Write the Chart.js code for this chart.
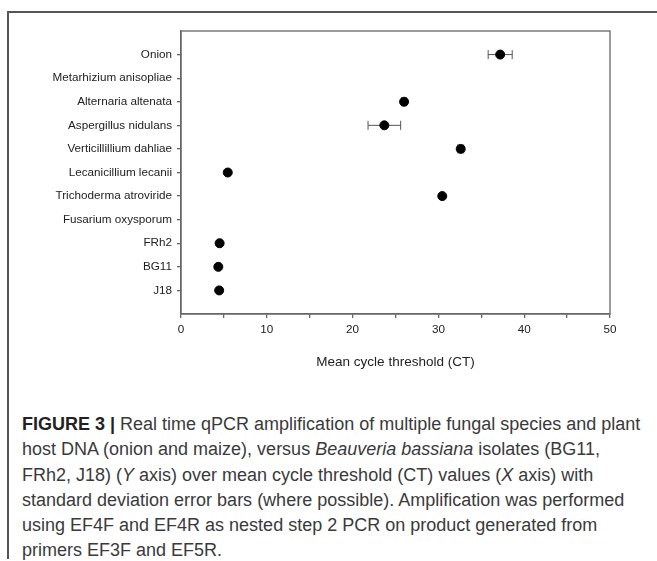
<!DOCTYPE html>
<html>
<head>
<meta charset="utf-8">
<script src="https://cdn.jsdelivr.net/npm/chart.js@4.4.0/dist/chart.umd.min.js"></script>
<style>
  html, body { margin: 0; padding: 0; background: #fff; }
  body { width: 657px; height: 561px; position: relative; overflow: hidden; }
  #frame {
    position: absolute; left: 7px; top: 11px; width: 660px; height: 546px;
    border-left: 2px solid #555; border-top: 2px solid #555;
  }
  #wrap { position: absolute; left: 0; top: 0; width: 657px; height: 380px; }
  #caption {
    position: absolute; left: 22px; top: 412px; white-space: nowrap;
    font-family: "Liberation Sans", Arial, sans-serif; font-size: 18px;
    line-height: 25.3px; color: #3a3a3a;
  }
  #caption b { color: #222; }
</style>
</head>
<body>
<div id="frame"></div>
<div id="wrap"><canvas id="myChart"></canvas></div>
<div id="caption">
  <b>FIGURE 3 |</b> Real time qPCR amplification of multiple fungal species and plant<br>
  host DNA (onion and maize), versus <i>Beauveria bassiana</i> isolates (BG11,<br>
  FRh2, J18) (<i>Y</i> axis) over mean cycle threshold (CT) values (<i>X</i> axis) with<br>
  standard deviation error bars (where possible). Amplification was performed<br>
  using EF4F and EF4R as nested step 2 PCR on product generated from<br>
  primers EF3F and EF5R.
</div>
<script>
// categories top to bottom
const categories = ['Onion', 'Metarhizium anisopliae', 'Alternaria altenata', 'Aspergillus nidulans',
  'Verticillillium dahliae', 'Lecanicillium lecanii', 'Trichoderma atroviride', 'Fusarium oxysporum',
  'FRh2', 'BG11', 'J18'];
// mean CT (null = no amplification)
const meanCT = [37.2, null, 26.0, 23.7, 32.6, 5.45, 30.45, null, 4.5, 4.35, 4.45];
// standard deviation
const sdCT = [1.4, 0, 0.3, 1.9, 0.35, 0, 0, 0, 0.2, 0, 0];
const xTicks = [0, 10, 20, 30, 40, 50];

const points = [];
categories.forEach((c, i) => {
    if (meanCT[i] !== null) points.push({ x: meanCT[i], y: i + 1, sd: sdCT[i] });
});

// error bars drawn with the chart's scales
const errorBars = {
    id: 'errorBars',
    beforeDatasetsDraw(chart) {
        const { ctx, scales: { x, y } } = chart;
        ctx.save();
        ctx.strokeStyle = '#555';
        ctx.lineWidth = 1;
        points.forEach(p => {
            if (!p.sd) return;
            const x0 = x.getPixelForValue(p.x - p.sd);
            const x1 = x.getPixelForValue(p.x + p.sd);
            const yy = y.getPixelForValue(p.y);
            ctx.beginPath();
            ctx.moveTo(x0, yy); ctx.lineTo(x1, yy);
            ctx.moveTo(x0, yy - 4.5); ctx.lineTo(x0, yy + 4.5);
            ctx.moveTo(x1, yy - 4.5); ctx.lineTo(x1, yy + 4.5);
            ctx.stroke();
        });
        ctx.restore();
    }
};

// box round the plot
const plotBox = {
    id: 'plotBox',
    afterDraw(chart) {
        const { ctx, chartArea: a } = chart;
        ctx.save();
        ctx.strokeStyle = '#666';
        ctx.lineWidth = 1.3;
        ctx.strokeRect(a.left, a.top, a.right - a.left, a.bottom - a.top);
        ctx.restore();
    }
};

Chart.defaults.font.family = '"Liberation Sans", Arial, sans-serif';
Chart.defaults.font.size = 11.7;
Chart.defaults.color = '#222';

const ctx = document.getElementById('myChart').getContext('2d');
const myChart = new Chart(ctx, {
    type: 'scatter',
    data: {
        datasets: [{
            data: points,
            backgroundColor: '#000',
            borderColor: '#000',
            pointRadius: 4.5,
            pointHoverRadius: 4.5
        }]
    },
    options: {
        responsive: true,
        maintainAspectRatio: false,
        animation: false,
        layout: { padding: { top: 31, right: 47, left: 0, bottom: 0 } },
        plugins: {
            legend: { display: false },
            tooltip: { enabled: false }
        },
        scales: {
            x: {
                type: 'linear',
                min: 0,
                max: 50,
                afterFit: s => { s.height = 66; },
                ticks: {
                    stepSize: 5,
                    padding: 5,
                    maxRotation: 0,
                    color: '#222',
                    callback: v => (xTicks.includes(v) ? v : '')
                },
                grid: { drawOnChartArea: false, tickLength: 4, color: '#666', lineWidth: 1.3 },
                border: { color: '#666', width: 1.3 },
                title: {
                    display: true,
                    text: 'Mean cycle threshold (CT)',
                    color: '#222',
                    font: { size: 13.5 },
                    padding: { top: 5, bottom: 10 }
                }
            },
            y: {
                type: 'linear',
                min: 0,
                max: 12,
                reverse: true,
                afterFit: s => { s.width = 181; },
                afterBuildTicks: s => { s.ticks = categories.map((c, i) => ({ value: i + 1 })); },
                ticks: {
                    padding: 5,
                    color: '#222',
                    callback: v => categories[v - 1]
                },
                grid: { drawOnChartArea: false, tickLength: 4, color: '#666', lineWidth: 1.3 },
                border: { color: '#666', width: 1.3 }
            }
        }
    },
    plugins: [errorBars, plotBox]
});
</script>
</body>
</html>
